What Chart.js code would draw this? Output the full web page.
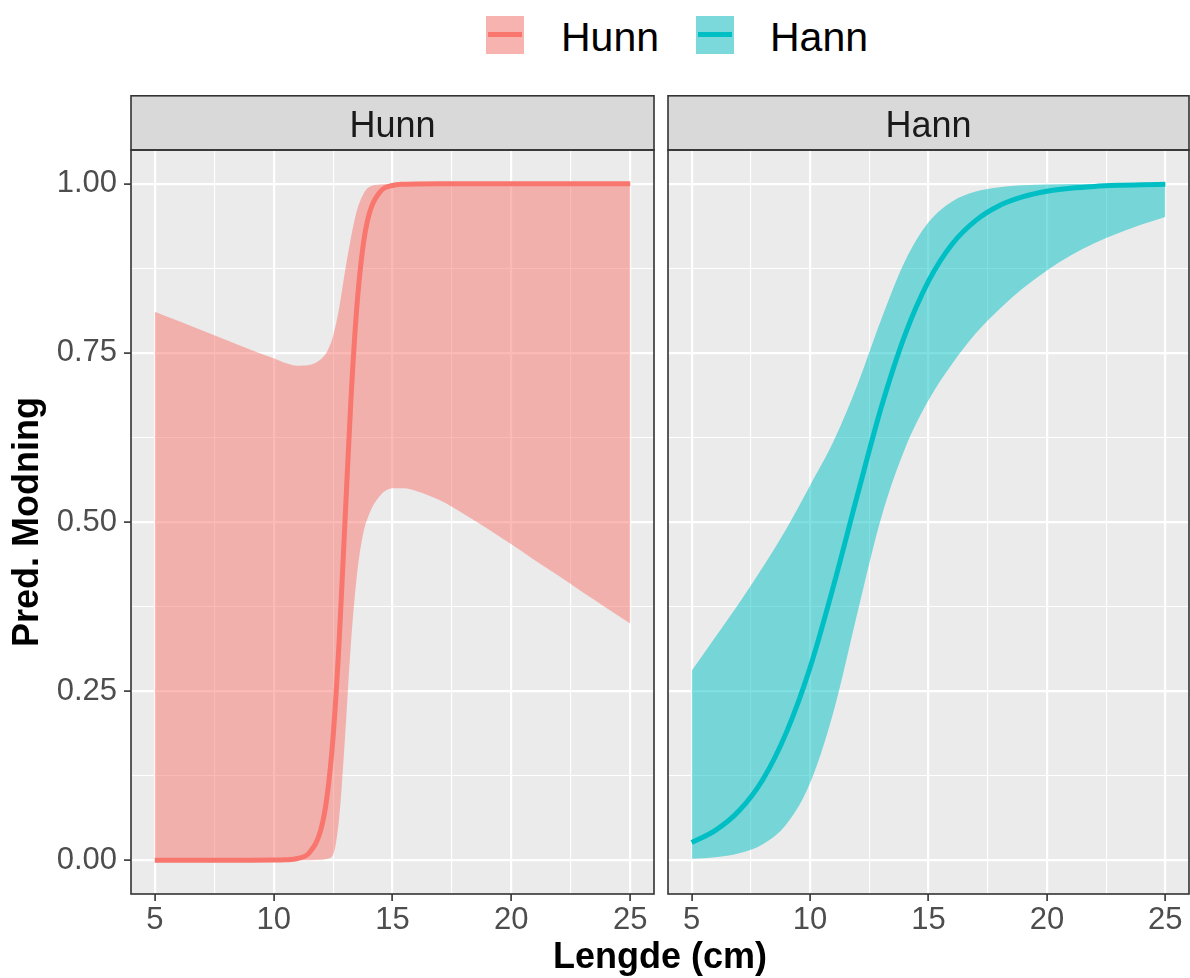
<!DOCTYPE html>
<html>
<head>
<meta charset="utf-8">
<script src="https://cdn.jsdelivr.net/npm/chart.js@4/dist/chart.umd.min.js"></script>
<style>
  body { margin: 0; background: #fff; width: 1190px; height: 978px; position: relative; overflow: hidden;
         font-family: "Liberation Sans", Arial, sans-serif; }
  canvas { position: absolute; top: 95px; }
  .key { position: absolute; top: 16px; width: 38px; height: 38px; }
  .key span { position: absolute; left: 2px; right: 2px; top: 16px; height: 5px; }
  .keylabel { position: absolute; top: 17px; font-size: 41px; line-height: 41px; color: #000; }
  #xtitle { position: absolute; left: 131px; width: 1058px; top: 938px; text-align: center;
            font-weight: bold; font-size: 36px; line-height: 36px; color: #000; }
</style>
</head>
<body>
<div class="key" style="left:486px;background:#F6B3B0"><span style="background:#F8766D"></span></div>
<div class="keylabel" style="left:561px">Hunn</div>
<div class="key" style="left:696px;background:#7BD9DB"><span style="background:#00BFC4"></span></div>
<div class="keylabel" style="left:770px">Hann</div>

<canvas id="panel-hunn" width="660" height="883" style="left:0;width:660px;height:883px"></canvas>
<canvas id="panel-hann" width="530" height="883" style="left:660px;width:530px;height:883px"></canvas>
<div id="xtitle">Lengde (cm)</div>

<script>
// tick positions
const xMajor = [5, 10, 15, 20, 25];
const xMinor = [7.5, 12.5, 17.5, 22.5];
const yMajor = [0, 0.25, 0.5, 0.75, 1];
const yMinor = [0.125, 0.375, 0.625, 0.875];

// Hunn (female)
const hunnX = [5, 6, 7, 8, 9, 10, 10.5, 11, 11.5, 12, 12.25, 12.5, 12.75, 13, 13.25, 13.5, 13.75, 14, 14.5, 15, 15.5, 16, 17, 18, 19, 20, 21, 22, 23, 24, 25];
const hunnFit = [0, 0, 0, 0, 0, 0.0001, 0.0006, 0.0025, 0.011, 0.047, 0.095, 0.182, 0.32, 0.5, 0.68, 0.818, 0.905, 0.953, 0.989, 0.9975, 0.9994, 0.9999, 1, 1, 1, 1, 1, 1, 1, 1, 1];
const hunnLower = [0, 0, 0, 0, 0, 0, 0, 0, 0, 0.0005, 0.002, 0.008, 0.06, 0.18, 0.32, 0.42, 0.48, 0.51, 0.54, 0.55, 0.55, 0.546, 0.532, 0.512, 0.49, 0.467, 0.443, 0.42, 0.396, 0.373, 0.35];
const hunnUpper = [0.811, 0.797, 0.783, 0.769, 0.755, 0.742, 0.735, 0.731, 0.732, 0.741, 0.752, 0.775, 0.815, 0.87, 0.92, 0.96, 0.983, 0.995, 0.999, 1, 1, 1, 1, 1, 1, 1, 1, 1, 1, 1, 1];

// Hann (male)
const hannX = [5, 6, 7, 8, 9, 10, 11, 12, 13, 14, 15, 16, 17, 18, 19, 20, 21, 22, 23, 24, 25];
const hannFit = [0.026, 0.044, 0.073, 0.119, 0.189, 0.285, 0.407, 0.54, 0.669, 0.776, 0.856, 0.911, 0.946, 0.968, 0.981, 0.989, 0.9935, 0.9962, 0.9978, 0.9987, 0.9992];
const hannLower = [0.002, 0.0043, 0.0101, 0.0235, 0.053, 0.114, 0.221, 0.366, 0.506, 0.608, 0.68, 0.734, 0.779, 0.815, 0.846, 0.872, 0.894, 0.912, 0.927, 0.94, 0.951];
const hannUpper = [0.28, 0.33, 0.38, 0.433, 0.49, 0.554, 0.62, 0.703, 0.799, 0.885, 0.943, 0.974, 0.9886, 0.9951, 0.9979, 0.9991, 0.9996, 0.9999, 1, 1, 1];

const fontStack = '"Liberation Sans", Arial, sans-serif';
Chart.defaults.font.family = fontStack;

const colors = {
  panel: "#EBEBEB",
  strip: "#D9D9D9",
  frame: "#333333",
  tickText: "#4D4D4D",
};

// grey panel behind, strip + frame on top
const facetPlugin = {
  id: "facet",
  beforeDraw(chart) {
    const { ctx, chartArea: a } = chart;
    ctx.save();
    ctx.fillStyle = colors.panel;
    ctx.fillRect(a.left, a.top, a.right - a.left, a.bottom - a.top);
    ctx.restore();
  },
  afterDraw(chart, args, opts) {
    const { ctx, chartArea: a } = chart;
    ctx.save();
    ctx.fillStyle = colors.strip;
    ctx.fillRect(a.left, 0, a.right - a.left, a.top);
    ctx.strokeStyle = colors.frame;
    ctx.lineWidth = 1.6;
    ctx.strokeRect(a.left, 0.8, a.right - a.left, a.top - 0.8);
    ctx.strokeRect(a.left, a.top, a.right - a.left, a.bottom - a.top);
    ctx.fillStyle = "#1A1A1A";
    ctx.font = "36px " + fontStack;
    ctx.textAlign = "center";
    ctx.textBaseline = "alphabetic";
    ctx.fillText(opts.label, (a.left + a.right) / 2, 41.5);
    ctx.restore();
  },
};

const setTicks = (major, minor) => (scale) => {
  scale.ticks = major.concat(minor).sort((a, b) => a - b).map((v) => ({ value: v }));
};

function gridFor(major) {
  return {
    color: "#FFFFFF",
    lineWidth: (c) => (major.includes(c.tick.value) ? 2.2 : 1.1),
    tickColor: (c) => (major.includes(c.tick.value) ? colors.frame : "rgba(0,0,0,0)"),
    tickLength: 7,
    tickWidth: 1.6,
  };
}

function ribbonSets(xs, fit, lower, upper, line, fill) {
  const pts = (ys) => xs.map((x, i) => ({ x: x, y: ys[i] }));
  return [
    { data: pts(fit), borderColor: line, borderWidth: 5, pointRadius: 0, fill: false, cubicInterpolationMode: "monotone", order: 0 },
    { data: pts(lower), borderColor: "transparent", borderWidth: 0, pointRadius: 0, fill: false, cubicInterpolationMode: "monotone", order: 1 },
    { data: pts(upper), borderColor: "transparent", borderWidth: 0, backgroundColor: fill, pointRadius: 0, fill: 1, cubicInterpolationMode: "monotone", order: 2 },
  ];
}

function buildPanel(id, label, datasets, withYAxis, padding) {
  new Chart(document.getElementById(id), {
    type: "line",
    data: { datasets: datasets },
    plugins: [facetPlugin],
    options: {
      responsive: false,
      devicePixelRatio: 1,
      animation: false,
      layout: { padding: padding },
      plugins: {
        legend: { display: false },
        tooltip: { enabled: false },
        facet: { label: label },
      },
      scales: {
        x: {
          type: "linear",
          min: 4,
          max: 26,
          afterBuildTicks: setTicks(xMajor, xMinor),
          afterFit: (s) => { s.height = 84; },
          border: { display: false },
          grid: gridFor(xMajor),
          ticks: {
            autoSkip: false,
            maxRotation: 0,
            padding: 1,
            color: colors.tickText,
            font: { size: 31 },
            callback: (v) => (xMajor.includes(v) ? String(v) : ""),
          },
        },
        y: {
          type: "linear",
          min: -0.05,
          max: 1.05,
          afterBuildTicks: setTicks(yMajor, yMinor),
          afterFit: (s) => { s.width = withYAxis ? 131 : 0; },
          border: { display: false },
          grid: Object.assign(gridFor(yMajor), { drawTicks: withYAxis }),
          ticks: {
            display: withYAxis,
            autoSkip: false,
            padding: 7,
            color: colors.tickText,
            font: { size: 31 },
            callback: (v) => (yMajor.includes(v) ? v.toFixed(2) : ""),
          },
          title: {
            display: withYAxis,
            text: "Pred. Modning",
            color: "#000000",
            font: { size: 36, weight: "bold" },
            padding: { top: 6, bottom: 0 },
          },
        },
      },
    },
  });
}

buildPanel("panel-hunn", "Hunn",
  ribbonSets(hunnX, hunnFit, hunnLower, hunnUpper, "#F8766D", "rgba(248, 118, 109, 0.5)"),
  true, { top: 55, right: 6, bottom: 0, left: 0 });

buildPanel("panel-hann", "Hann",
  ribbonSets(hannX, hannFit, hannLower, hannUpper, "#00BFC4", "rgba(0, 191, 196, 0.5)"),
  false, { top: 55, right: 1, bottom: 0, left: 8 });
</script>
</body>
</html>
